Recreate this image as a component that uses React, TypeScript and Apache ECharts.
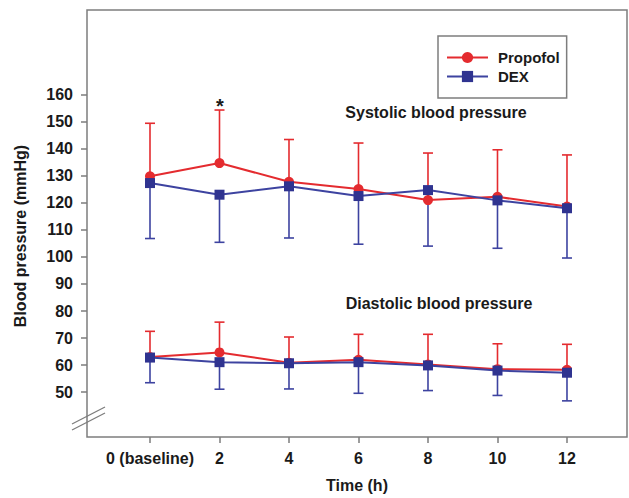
import React, { useEffect, useRef } from "react";
import * as echarts from "echarts";

const hours = [0, 2, 4, 6, 8, 10, 12];
const yTicks = [50, 60, 70, 80, 90, 100, 110, 120, 130, 140, 150, 160];

const sysPropofol = [129.8, 134.7, 127.8, 125.1, 121.0, 122.2, 118.6];
const sysPropofolUpper = [149.4, 154.3, 143.4, 142.1, 138.4, 139.6, 137.7];
const sysDex = [127.3, 123.0, 126.1, 122.5, 124.7, 120.9, 118.0];
const sysDexLower = [106.8, 105.4, 107.0, 104.7, 104.0, 103.2, 99.6];

const diaPropofol = [63.0, 64.7, 60.9, 62.0, 60.2, 58.5, 58.3];
const diaPropofolUpper = [72.5, 75.9, 70.4, 71.4, 71.4, 67.9, 67.7];
const diaDex = [62.8, 61.1, 60.7, 61.1, 59.9, 58.0, 57.2];
const diaDexLower = [53.5, 51.1, 51.2, 49.6, 50.6, 48.8, 46.8];

const RED = "#e42b2f";
const BLUE = "#2f3390";
const BLUE_LINE = "#3d43a0";
const GRAY = "#7d7d7d";
const TXT = "#1a1a1a";
const FONT = "Liberation Sans, Arial, sans-serif";

function errSeries(name: string, color: string, centers: number[], ends: number[]) {
  return {
    name,
    type: "custom",
    z: 1,
    data: hours.map((h, i) => [h, centers[i], ends[i]]),
    encode: { x: 0, y: [1, 2] },
    renderItem: (_p: any, api: any) => {
      const x = api.value(0);
      const p0 = api.coord([x, api.value(1)]);
      const p1 = api.coord([x, api.value(2)]);
      const hw = 5;
      return {
        type: "group",
        children: [
          { type: "line", shape: { x1: p0[0], y1: p0[1], x2: p1[0], y2: p1[1] }, style: { stroke: color, lineWidth: 1.6 } },
          { type: "line", shape: { x1: p1[0] - hw, y1: p1[1], x2: p1[0] + hw, y2: p1[1] }, style: { stroke: color, lineWidth: 1.6 } },
        ],
      };
    },
  };
}

function lineSeries(name: string, vals: number[], color: string, lineColor: string, symbol: string, size: number, z: number) {
  return {
    name,
    type: "line",
    z,
    data: hours.map((h, i) => [h, vals[i]]),
    symbol,
    symbolSize: size,
    itemStyle: { color },
    lineStyle: { color: lineColor, width: 2 },
  };
}

export default function App() {
  const ref = useRef<HTMLDivElement>(null);
  useEffect(() => {
    if (!ref.current) return;
    const chart = echarts.init(ref.current, null, { renderer: "svg" });
    const option: any = {
      animation: false,
      backgroundColor: "#ffffff",
      grid: { left: 87, right: 2, top: 10, bottom: 59, show: true, borderColor: GRAY, borderWidth: 1.5, backgroundColor: "transparent" },
      legend: {
        data: ["Propofol", "DEX"],
        orient: "vertical",
        left: 438,
        top: 36,
        padding: [14, 7, 14, 8],
        itemGap: 4,
        itemWidth: 41,
        itemHeight: 14,
        borderColor: GRAY,
        borderWidth: 1.5,
        textStyle: { fontFamily: FONT, fontWeight: "bold", fontSize: 15, color: TXT, padding: [0, 0, 0, 5] },
      },
      xAxis: {
        type: "value",
        min: -1.813,
        max: 13.727,
        name: "Time (h)",
        nameLocation: "middle",
        nameGap: 40,
        nameTextStyle: { fontFamily: FONT, fontWeight: "bold", fontSize: 16, color: TXT },
        axisLine: { show: false, onZero: false },
        axisTick: { show: true, customValues: hours, length: 6, lineStyle: { color: GRAY, width: 1.5 } },
        axisLabel: {
          customValues: hours,
          margin: 13,
          fontFamily: FONT,
          fontWeight: "bold",
          fontSize: 16,
          color: TXT,
          formatter: (v: number) => (v === 0 ? "0 (baseline)" : String(v)),
        },
        splitLine: { show: false },
      },
      yAxis: {
        type: "value",
        min: 33.44,
        max: 191.27,
        axisLine: { show: false, onZero: false },
        axisTick: { show: true, customValues: yTicks, length: 6, lineStyle: { color: GRAY, width: 1.5 } },
        axisLabel: {
          customValues: yTicks,
          margin: 14,
          fontFamily: FONT,
          fontWeight: "bold",
          fontSize: 16,
          color: TXT,
        },
        splitLine: { show: false },
      },
      graphic: [
        {
          type: "text",
          x: 20,
          y: 236,
          rotation: Math.PI / 2,
          style: { text: "Blood pressure (mmHg)", fontFamily: FONT, fontWeight: "bold", fontSize: 16, fill: TXT, textAlign: "center", textVerticalAlign: "middle" },
        },
        {
          type: "text",
          x: 436,
          y: 112,
          style: { text: "Systolic blood pressure", fontFamily: FONT, fontWeight: "bold", fontSize: 16, fill: TXT, textAlign: "center", textVerticalAlign: "middle" },
        },
        {
          type: "text",
          x: 439,
          y: 303,
          style: { text: "Diastolic blood pressure", fontFamily: FONT, fontWeight: "bold", fontSize: 16, fill: TXT, textAlign: "center", textVerticalAlign: "middle" },
        },
        {
          type: "text",
          x: 220,
          y: 106,
          style: { text: "*", fontFamily: FONT, fontWeight: "bold", fontSize: 20, fill: TXT, textAlign: "center", textVerticalAlign: "middle" },
        },
        { type: "line", shape: { x1: 72, y1: 424, x2: 105, y2: 407 }, style: { stroke: GRAY, lineWidth: 1.3 } },
        { type: "line", shape: { x1: 72, y1: 430, x2: 105, y2: 413 }, style: { stroke: GRAY, lineWidth: 1.3 } },
      ],
      series: [
        errSeries("errSysP", RED, sysPropofol, sysPropofolUpper),
        errSeries("errDiaP", RED, diaPropofol, diaPropofolUpper),
        errSeries("errSysD", BLUE_LINE, sysDex, sysDexLower),
        errSeries("errDiaD", BLUE_LINE, diaDex, diaDexLower),
        lineSeries("Propofol", sysPropofol, RED, RED, "circle", 10, 3),
        lineSeries("Propofol", diaPropofol, RED, RED, "circle", 10, 3),
        lineSeries("DEX", sysDex, BLUE, BLUE_LINE, "rect", 10, 4),
        lineSeries("DEX", diaDex, BLUE, BLUE_LINE, "rect", 10, 4),
      ],
    };
    chart.setOption(option);
    return () => chart.dispose();
  }, []);
  return <div ref={ref} style={{ position: "fixed", left: 0, top: 0, width: 629, height: 498 }} />;
}
